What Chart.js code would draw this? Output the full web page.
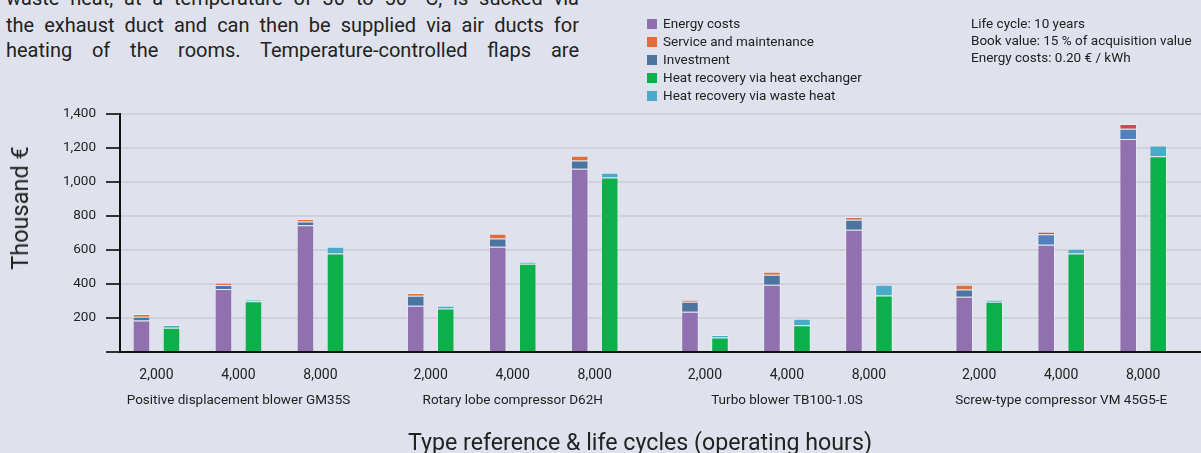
<!DOCTYPE html>
<html>
<head>
<meta charset="utf-8">
<script src="https://cdn.jsdelivr.net/npm/chart.js@4.4.1/dist/chart.umd.min.js"></script>
<style>
  html, body { margin: 0; padding: 0; }
  body { width: 1201px; height: 453px; background: #dfe2ec; position: relative; overflow: hidden;
         font-family: Roboto, sans-serif; color: #222; }
  #chart { position: absolute; left: 0; top: 0; }
  .para { position: absolute; left: 6px; width: 573px; height: 25px; overflow: hidden;
          font-size: 20px; line-height: 25px; text-align: justify; text-align-last: justify; }
  #legend { position: absolute; left: 647px; top: 14px; font-size: 13.5px; }
  #legend div { height: 18px; line-height: 18px; white-space: nowrap; }
  #legend span.box { display: inline-block; width: 10px; height: 10px; margin-right: 6px; vertical-align: -1px; }
  #notes { position: absolute; left: 971px; top: 15px; font-size: 13.5px; line-height: 17px; white-space: nowrap; }
  #ytitle { position: absolute; left: 20px; top: 208px; transform: translate(-50%, -50%) rotate(-90deg);
            font-size: 23.5px; white-space: nowrap; }
  #xtitle { position: absolute; left: 640px; top: 442px; transform: translate(-50%, -50%);
            font-size: 23.2px; white-space: nowrap; }
</style>
</head>
<body>
<div class="para" style="top:-14px">waste heat, at a temperature of 30 to 50 °C, is sucked via</div>
<div class="para" style="top:13px">the exhaust duct and can then be supplied via air ducts for</div>
<div class="para" style="top:38px">heating of the rooms. Temperature-controlled flaps are</div>
<canvas id="chart" width="1201" height="453"></canvas>
<div id="legend"></div>
<div id="notes">Life cycle: 10 years<br>Book value: 15 % of acquisition value<br>Energy costs: 0.20 € / kWh</div>
<div id="ytitle">Thousand €</div>
<div id="xtitle">Type reference &amp; life cycles (operating hours)</div>
<script>
// Life cycle costs per machine type and operating hours (thousand €)

const groups = ['Positive displacement blower GM35S', 'Rotary lobe compressor D62H',
                'Turbo blower TB100-1.0S', 'Screw-type compressor VM 45G5-E'];
const hours = ['2,000', '4,000', '8,000'];
const yTicks = [0, 200, 400, 600, 800, 1000, 1200, 1400];

// one value per bar: group by group, 2,000 / 4,000 / 8,000 hours
const energy        = [186, 370, 745,  272, 619, 1078,  237, 396, 719,  325, 631, 1253];
const service       = [ 16,  13,  14,   16,  28,   28,   12,  17,  16,   28,  16,   28];
const investment    = [ 22,  24,  23,   59,  49,   49,   59,  59,  59,   43,  61,   60];
const heatExchanger = [143, 298, 580,  256, 519, 1027,   86, 157, 333,  296, 580, 1151];
const wasteHeat     = [ 16,  10,  39,   16,  12,   28,   14,  39,  63,   12,  28,   64];

const colors = {
  energy: '#9170b0',
  service: '#e06d3b',
  investment: '#4b74a0',
  heatExchanger: '#0cb04b',
  wasteHeat: '#4aabc9'
};
// the last two screw compressor bars use slightly different shades in the original
const serviceAlt = '#c0504d';
const investmentAlt = '#4f81bd';
const shade = (base, alt) => energy.map((_, i) => (i >= 10 ? alt : base));

// layout of the x axis: groups of three bars with a wider gap between groups
const GROUP_STEP = 3.345;
const X_MIN = -0.445, X_MAX = 12.74;
const xPos = i => Math.floor(i / 3) * GROUP_STEP + (i % 3);

const points = arr => arr.map((v, i) => ({ x: xPos(i), y: v }));

function ds(label, arr, color, stack) {
  return {
    label, data: points(arr), stack,
    backgroundColor: color,
    borderColor: 'rgba(255,255,255,0.3)',
    borderWidth: 1,
    categoryPercentage: 0.732,
    barPercentage: 0.585
  };
}

const datasets = [
  ds('Energy costs', energy, colors.energy, 'cost'),
  ds('Investment', investment, shade(colors.investment, investmentAlt), 'cost'),
  ds('Service and maintenance', service, shade(colors.service, serviceAlt), 'cost'),
  ds('Heat recovery via heat exchanger', heatExchanger, colors.heatExchanger, 'heat'),
  ds('Heat recovery via waste heat', wasteHeat, colors.wasteHeat, 'heat')
];

// legend in the order of the original
const legendItems = [
  ['Energy costs', colors.energy],
  ['Service and maintenance', colors.service],
  ['Investment', colors.investment],
  ['Heat recovery via heat exchanger', colors.heatExchanger],
  ['Heat recovery via waste heat', colors.wasteHeat]
];
document.getElementById('legend').innerHTML = legendItems
  .map(([t, c]) => `<div><span class="box" style="background:${c}"></span>${t}</div>`).join('');

Chart.defaults.font.family = 'Roboto, sans-serif';
Chart.defaults.color = '#222';

new Chart(document.getElementById('chart'), {
  type: 'bar',
  data: { datasets },
  options: {
    responsive: false,
    animation: false,
    layout: { padding: { top: 114, left: 0, right: 0, bottom: 35 } },
    plugins: { legend: { display: false }, tooltip: { enabled: false } },
    scales: {
      x: {
        type: 'linear', min: X_MIN, max: X_MAX, stacked: true, offset: false, weight: 0,
        afterBuildTicks: s => { s.ticks = energy.map((_, i) => ({ value: xPos(i) })); },
        afterFit: s => { s.height = 36; },
        grid: { display: false, drawTicks: false, offset: false },
        border: { color: '#111', width: 2 },
        ticks: { autoSkip: false, maxRotation: 0, padding: 15, font: { size: 14 },
                 callback: (v, i) => hours[i % 3] }
      },
      xGroup: {
        type: 'linear', position: 'bottom', min: X_MIN, max: X_MAX, offset: false, weight: 1,
        afterBuildTicks: s => { s.ticks = groups.map((g, j) => ({ value: xPos(j * 3 + 1) })); },
        afterFit: s => { s.height = 30; },
        grid: { display: false, drawTicks: false, offset: false },
        border: { display: false },
        ticks: { autoSkip: false, maxRotation: 0, padding: 5, font: { size: 13.5 },
                 callback: (v, i) => groups[i] }
      },
      y: {
        min: 0, max: 1400, stacked: true,
        afterBuildTicks: s => { s.ticks = yTicks.map(v => ({ value: v })); },
        afterFit: s => { s.width = 120; },
        grid: { color: '#cfd2da', lineWidth: 2, tickColor: '#333', tickLength: 14 },
        border: { color: '#111', width: 2 },
        ticks: { padding: 10, font: { size: 13.5 },
                 callback: v => v === 0 ? '' : v.toLocaleString('en-US') }
      }
    }
  }
});
</script>
</body>
</html>
